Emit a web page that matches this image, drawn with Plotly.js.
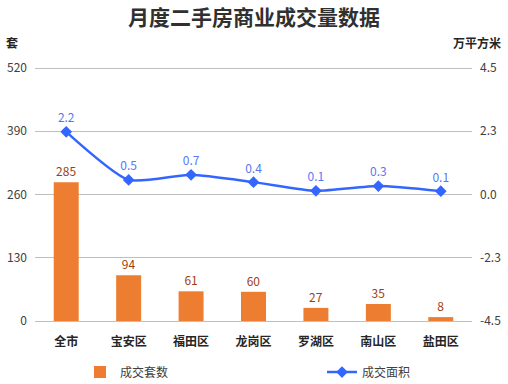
<!DOCTYPE html>
<html><head><meta charset="utf-8">
<script src="https://cdn.plot.ly/plotly-3.0.1.min.js"></script>
<style>html,body{margin:0;padding:0;background:#fff}#c{width:508px;height:384px}</style>
</head><body><div id="c"></div>
<script>
const categories = ['全市','宝安区','福田区','龙岗区','罗湖区','南山区','盐田区'];
const units = [285, 94, 61, 60, 27, 35, 8];
const area = [2.23, 0.52, 0.7, 0.44, 0.13, 0.3, 0.12];
const leftTicks = [0, 130, 260, 390, 520];
const rightTickVals = [-4.5, -2.25, 0, 2.25, 4.5];
const rightTickText = ['-4.5', '-2.3', '0.0', '2.3', '4.5'];

const F = '"Noto Sans CJK SC", "Noto Sans", sans-serif';
const pad = 4.11;
const r2pad = pad * 9 / 520;
const traces = [
  {type:'bar', name:'成交套数', x:categories, y:units, marker:{color:'#ed7d31'},
   text:units.map(String), textposition:'outside', cliponaxis:false,
   textfont:{color:'#9c3f12', size:12, family:F}, width:0.4, yaxis:'y', legend:'legend'},
  {type:'scatter', mode:'lines+markers+text', name:'成交面积', x:categories, y:area,
   line:{color:'#3366ff', width:2.5, shape:'spline', smoothing:0.6},
   marker:{symbol:'diamond', size:9, color:'#3366ff'},
   text:area.map(v=>v.toFixed(1)), textposition:'top center',
   textfont:{color:'#5578f5', size:12, family:F}, cliponaxis:false, yaxis:'y2', legend:'legend2'}
];
const legBase = {orientation:'h', yref:'container', y:0.031, yanchor:'middle', xref:'container',
  xanchor:'left', font:{size:12, color:'#404040'}, bgcolor:'rgba(0,0,0,0)'};
const layout = {
  width:508, height:384, margin:{l:35, r:36, t:66, b:61},
  paper_bgcolor:'#fff', plot_bgcolor:'#fff',
  font:{family:F, color:'#404040', size:12},
  title:{text:'<b>月度二手房商业成交量数据</b>', x:0.5, xanchor:'center', y:0.955, yanchor:'middle',
         font:{family:F, size:21, color:'#303030'}},
  xaxis:{type:'category', showgrid:false, zeroline:false, showline:false, ticks:'', ticklabelstandoff:10,
         tickfont:{size:12, color:'#262626', family:F, weight:'bold'}},
  yaxis:{range:[-pad, 520+pad], tickvals:leftTicks, showgrid:true, gridcolor:'#bfbfbf', gridwidth:1,
         zeroline:false, showline:false, ticks:'', ticklabelstandoff:7, tickfont:{size:12, color:'#404040'}},
  yaxis2:{overlaying:'y', side:'right', range:[-4.5-r2pad, 4.5+r2pad], tickvals:rightTickVals, ticktext:rightTickText,
          showgrid:false, zeroline:false, showline:false, ticks:'', ticklabelstandoff:7, tickfont:{size:12, color:'#404040'}},
  showlegend:true,
  legend:Object.assign({}, legBase, {x:80/508}),
  legend2:Object.assign({}, legBase, {x:322/508}),
  annotations:[
    {text:'<b>套</b>', xref:'paper', yref:'paper', x:-0.07, y:1.09, xanchor:'left', yanchor:'middle',
     showarrow:false, font:{size:12, color:'#262626'}},
    {text:'<b>万平方米</b>', xref:'paper', yref:'paper', x:1.071, y:1.09, xanchor:'right', yanchor:'middle',
     showarrow:false, font:{size:12, color:'#262626'}}
  ]
};
Plotly.newPlot('c', traces, layout, {displayModeBar:false, staticPlot:true});
</script></body></html>
